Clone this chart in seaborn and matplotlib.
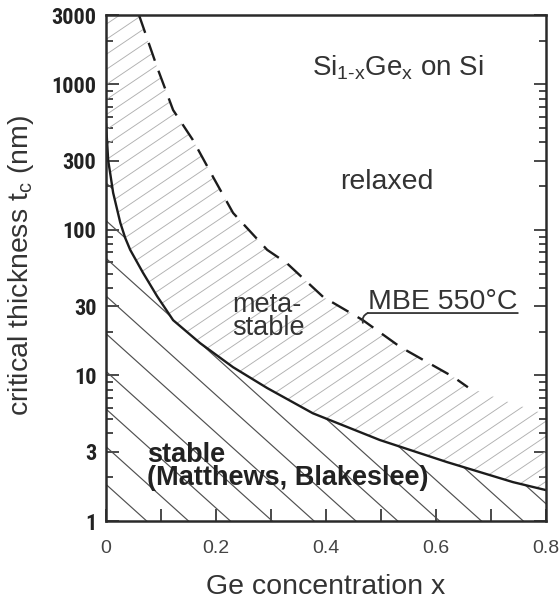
import numpy as np
import pandas as pd
import matplotlib
matplotlib.use("Agg")
import matplotlib.pyplot as plt
import seaborn as sns
from matplotlib import font_manager as fm
from matplotlib.collections import LineCollection
from matplotlib.ticker import FixedLocator, LogLocator, NullFormatter

# ---- data ----
mb_x = [0.0, 0.004, 0.008, 0.013, 0.018, 0.026, 0.035, 0.044, 0.067, 0.093,
        0.122, 0.171, 0.231, 0.293, 0.376, 0.498, 0.62, 0.74, 0.80]
mb_y = [540, 300, 240, 180, 150, 112, 88, 73, 51, 35,
        24, 16.7, 11.4, 8.2, 5.5, 3.6, 2.54, 1.85, 1.63]

mbe_x = [0.06, 0.0927, 0.122, 0.158, 0.195, 0.231, 0.293, 0.329, 0.395,
         0.467, 0.535, 0.631, 0.658]
mbe_y = [3000, 1320, 667, 415, 230, 131, 73, 59, 34.6,
         24, 15.7, 9.8, 8.3]

# upper edge of the metastable (hatched) region beyond the end of the dashed curve
meta_ext_x = [0.72, 0.80]
meta_ext_y = [6.8, 5.4]

x_ticks = [0, 0.2, 0.4, 0.6, 0.8]
x_ticklabels = ["0", "0.2", "0.4", "0.6", "0.8"]
x_minor = [0.1, 0.3, 0.5, 0.7]
y_ticks = [1, 3, 10, 30, 100, 300, 1000, 3000]
y_ticklabels = ["1", "3", "10", "30", "100", "300", "1000", "3000"]

sns.set_theme(style="ticks")
names = {f.name for f in fm.fontManager.ttflist}
narrow = None
for cand in ["Liberation Sans Narrow", "Arial Narrow", "Roboto Condensed",
             "Open Sans Condensed", "DejaVu Sans Condensed"]:
    if cand in names:
        narrow = cand
        break
plt.rcParams["font.family"] = ["Liberation Sans", "DejaVu Sans"]
plt.rcParams["mathtext.default"] = "regular"

W_PX, H_PX = 560, 599
fig = plt.figure(figsize=(W_PX / 100, H_PX / 100), dpi=100)
fig.patch.set_facecolor("white")
ax = fig.add_axes([106 / W_PX, 1 - 521 / H_PX, 440 / W_PX, 506 / H_PX])
ax.set_facecolor("white")
ax.set_yscale("log")

ink = "#2a2a2a"

# ---- regions ----
meta_x = [0.0] + mbe_x + meta_ext_x + mb_x[::-1]
meta_y = [3000] + mbe_y + meta_ext_y + mb_y[::-1]
stab_x = mb_x + [0.8, 0.0]
stab_y = mb_y + [1, 1]
meta_patch = ax.fill(meta_x, meta_y, facecolor="none", edgecolor="none")[0]
stab_patch = ax.fill(stab_x, stab_y, facecolor="none", edgecolor="none")[0]

axw = 440.0
axh = 506.0


def hatch(patch, angle_deg, spacing, color, lw):
    a = np.deg2rad(angle_deg)
    d = np.array([np.cos(a), np.sin(a)])
    n = np.array([-np.sin(a), np.cos(a)])
    c0 = np.array([axw / 2, axh / 2])
    L = axw + axh
    N = int(L / spacing) + 2
    segs = []
    for k in range(-N, N + 1):
        c = c0 + k * spacing * n
        p0 = c - L * d
        p1 = c + L * d
        segs.append([(p0[0] / axw, p0[1] / axh), (p1[0] / axw, p1[1] / axh)])
    lc = LineCollection(segs, colors=color, linewidths=lw, transform=ax.transAxes)
    ax.add_collection(lc, autolim=False)
    lc.set_clip_path(patch)


hatch(meta_patch, 34, 12.5, "#b0b0b0", 0.65)
hatch(stab_patch, -42, 28, "#505050", 0.85)

# ---- curves ----
sns.lineplot(x=mb_x, y=mb_y, ax=ax, color="#1c1c1c", lw=1.7, sort=False)
sns.lineplot(x=mbe_x, y=mbe_y, ax=ax, color="#1c1c1c", lw=1.7, sort=False)
ax.lines[-1].set_dashes((8, 4.5))

ax.set_xlim(0, 0.8)
ax.set_ylim(1, 3000)

# ---- ticks ----
ax.set_xticks(x_ticks)
ax.set_xticklabels(x_ticklabels, fontsize=14, color="#444444")
ax.xaxis.set_minor_locator(FixedLocator(x_minor))
ax.set_yticks(y_ticks)
yfam = [narrow, "Liberation Sans"] if narrow else ["Liberation Sans"]
ax.set_yticklabels(y_ticklabels, fontsize=14 if not narrow else 16,
                   fontweight="bold", family=yfam, color="#222222")
ax.yaxis.set_minor_locator(LogLocator(base=10, subs=[2, 4, 5, 6, 7, 8, 9]))
ax.yaxis.set_minor_formatter(NullFormatter())
ax.tick_params(axis="both", which="both", direction="in", color=ink, width=1.2,
               top=False, right=True)
ax.tick_params(axis="y", which="major", length=9, pad=7)
ax.tick_params(axis="y", which="minor", length=5)
ax.tick_params(axis="x", which="both", length=9, pad=14)
for s in ax.spines.values():
    s.set_linewidth(1.8)
    s.set_color(ink)

ax.set_xlabel("Ge concentration x", fontsize=20.5, color="#333333")
ax.set_ylabel("critical thickness t$_{c}$ (nm)", fontsize=20.5, color="#333333")
ax.xaxis.set_label_coords(0.5, -0.105)
ax.yaxis.set_label_coords(-0.16, 0.505)

# ---- annotations ----
tcol = "#333333"
T = ax.transAxes
ax.text(0.664, 0.881, "Si$_{1\u2010x}$Ge$_{x}$ on Si", fontsize=20, color=tcol,
        ha="center", va="baseline", transform=T)
ax.text(0.639, 0.656, "relaxed", fontsize=20.5, color=tcol, ha="center", va="baseline",
        transform=T)
ax.text(0.286, 0.405, "meta-\nstable", fontsize=19.5, color=tcol, ha="left", va="center",
        linespacing=0.85, transform=T)
ax.text(0.595, 0.419, "MBE 550\u00b0C", fontsize=20.5, color=tcol, ha="left", va="baseline",
        transform=T)
ax.annotate("", xy=(0.936, 0.411), xytext=(0.595, 0.411), xycoords="axes fraction",
            arrowprops=dict(arrowstyle="-", color=tcol, lw=1.3, shrinkA=0, shrinkB=0))
ax.annotate("", xy=(0.467, 23), xycoords="data", xytext=(0.595, 0.411),
            textcoords="axes fraction",
            arrowprops=dict(arrowstyle="-", color=tcol, lw=1.3, shrinkA=0, shrinkB=0,
                            connectionstyle="arc3,rad=0.4"))
ax.text(0.093, 0.107, "stable\n(Matthews, Blakeslee)", fontsize=19.5, color="#222222",
        fontweight="bold", ha="left", va="center", linespacing=0.85, transform=T)

fig.savefig("out.png", dpi=100, facecolor="white")
